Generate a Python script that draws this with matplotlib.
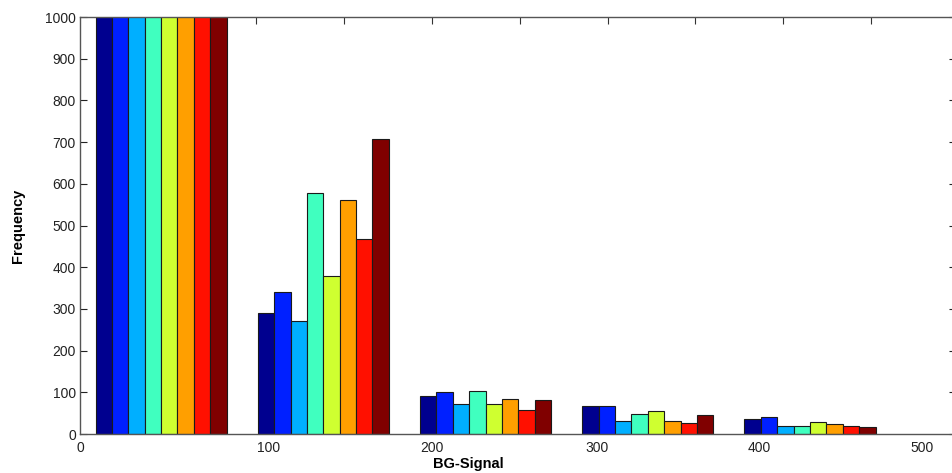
import numpy as np
import matplotlib.pyplot as plt

plt.rcParams['font.family'] = ['Liberation Sans', 'DejaVu Sans']

# bin centres of the histogram (BG-Signal)
bin_centers = [50, 150, 250, 350, 450]
# frequency per series (8 series), one list per bin; first bin is clipped at 1000
bin1 = [3200, 3000, 2900, 2700, 2800, 2600, 2700, 2400]
bin2 = [290, 340, 270, 578, 380, 560, 467, 708]
bin3 = [90, 100, 73, 103, 73, 85, 57, 81]
bin4 = [68, 68, 30, 48, 55, 30, 27, 45]
bin5 = [35, 40, 20, 20, 28, 23, 18, 17]
counts = np.array([bin1, bin2, bin3, bin4, bin5])
xtick_labels = ['0', '100', '200', '300', '400', '500']
yticks = [0, 100, 200, 300, 400, 500, 600, 700, 800, 900, 1000]

# MATLAB-style jet colours picked for 8 series
colors = [(0, 0, 0.5625), (0, 0.125, 1), (0, 0.6875, 1), (0.25, 1, 0.75),
          (0.8125, 1, 0.1875), (1, 0.625, 0), (1, 0.0625, 0), (0.5, 0, 0)]
n_series = counts.shape[1]
bar_w = 10.1

fig = plt.figure(figsize=(9.52, 4.73), dpi=100)
ax = fig.add_axes([80 / 952, 1 - 434 / 473, 876 / 952, 417 / 473])

centers = np.array(bin_centers)
for i in range(n_series):
    ax.bar(centers + (i - (n_series - 1) / 2) * bar_w, counts[:, i], width=bar_w,
           color=colors[i], edgecolor='#1a1a1a', linewidth=0.8, zorder=2)

ax.set_xlim(0, 540)
ax.set_ylim(0, 1000)

# bottom labels sit where they are in the screenshot (no tick marks there)
ax.set_xticks([0, 116.5, 217, 318.5, 419, 519])
ax.set_xticklabels(xtick_labels)
ax.tick_params(axis='x', bottom=True, length=0, pad=5, labelsize=10, colors='#222222')
ax.set_yticks(yticks)
ax.tick_params(axis='y', direction='in', left=True, right=True, length=5,
               labelsize=10, colors='#222222', pad=3)

# top axis has its own tick spacing
top = ax.secondary_xaxis('top')
top.set_xticks(np.arange(1, 10) * 54.2)
top.tick_params(direction='in', length=5, labeltop=False, colors='#333333')
top.spines['top'].set_visible(False)

for s in ax.spines.values():
    s.set_color('#555555')
    s.set_linewidth(1.0)

ax.set_xlabel('BG-Signal', fontweight='bold', fontsize=10.5)
ax.xaxis.set_label_coords((468 - 80) / 876, -30 / 417)
ax.xaxis.label.set_va('center')
ax.set_ylabel('Frequency', fontweight='bold', fontsize=10.5)
ax.yaxis.set_label_coords((18 - 80) / 876, 0.5)
ax.yaxis.label.set_va('center')

fig.savefig('out.png', dpi=100)
